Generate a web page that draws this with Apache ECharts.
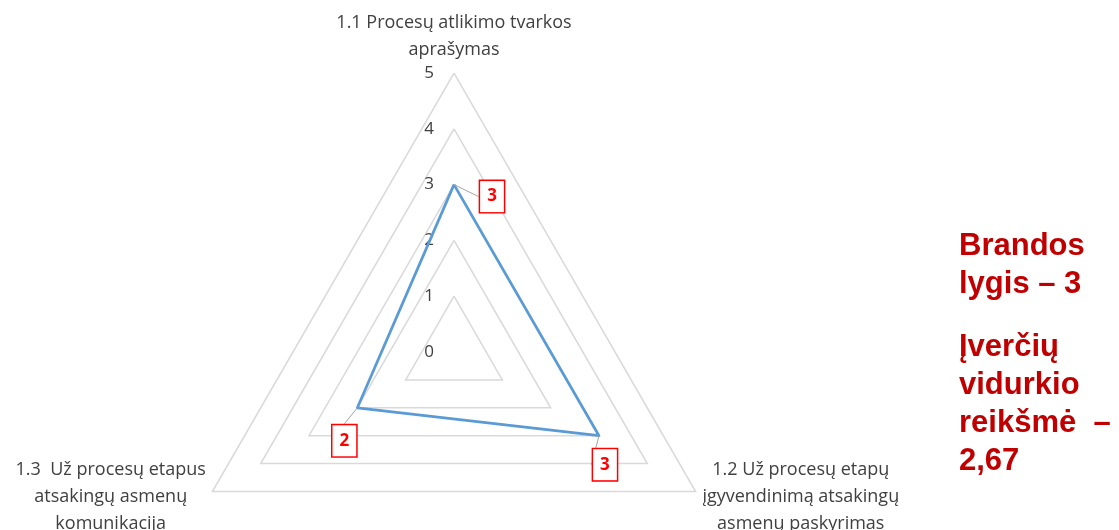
<!DOCTYPE html>
<html><head><meta charset="utf-8">
<script src="https://cdn.jsdelivr.net/npm/echarts@6/dist/echarts.min.js"></script>
<style>html,body{margin:0;padding:0;background:#fff}#chart{width:1119px;height:530px}</style>
</head><body><div id="chart"></div>
<script>
// Categories in the reference's (clockwise) order
const categories = [
  '1.1 Procesų atlikimo tvarkos\naprašymas',
  '1.2 Už procesų etapų\nįgyvendinimą atsakingų\nasmenų paskyrimas',
  '1.3  Už procesų etapus\natsakingų asmenų\nkomunikacija'
];
const values = [3, 3, 2];
const axisMin = 0;
const axisMax = 5;
const tickLabels = ['0', '1', '2', '3', '4', '5'];
const noteLevel = ['Brandos', 'lygis – 3'];
const noteAverage = ['Įverčių', 'vidurkio', 'reikšmė  –', '2,67'];

// ECharts lays indicators counter-clockwise; reorder so they appear clockwise like the reference
const order = [0, 2, 1];
const CX = 454, CY = 352, R = 279;
const txt = '#404040';
const nameStyles = [
  {},
  { align: 'center', verticalAlign: 'middle', padding: [0, 186, 6, 0] },
  { align: 'center', verticalAlign: 'middle', padding: [0, 0, 6, 193] }
];
const indicator = order.map((k, i) => {
  const ind = { name: categories[k], min: axisMin, max: axisMax, nameTextStyle: nameStyles[i] };
  if (i === 0) {
    ind.axisLabel = { show: true, margin: 20, color: txt, fontFamily: 'Open Sans', fontSize: 17,
      formatter: v => tickLabels[Math.round(v - axisMin)] };
  }
  return ind;
});

const chart = echarts.init(document.getElementById('chart'), null, { renderer: 'canvas' });
chart.setOption({
  animation: false,
  backgroundColor: '#ffffff',
  title: [
    { text: noteLevel.join('\n'), left: 959, top: 227, padding: 0,
      textStyle: { fontFamily: 'Liberation Sans', fontWeight: 'bold', fontSize: 31, lineHeight: 38, color: '#c00000' } },
    { text: noteAverage.join('\n'), left: 959, top: 328, padding: 0,
      textStyle: { fontFamily: 'Liberation Sans', fontWeight: 'bold', fontSize: 31, lineHeight: 38, color: '#c00000' } }
  ],
  radar: {
    center: [CX, CY],
    radius: R,
    startAngle: 90,
    splitNumber: 5,
    shape: 'polygon',
    axisNameGap: 10,
    indicator: indicator,
    axisName: { color: txt, fontFamily: 'Open Sans', fontSize: 18, lineHeight: 27 },
    axisLine: { show: false },
    axisTick: { show: false },
    axisLabel: { show: false },
    splitArea: { show: false },
    splitLine: { lineStyle: { color: '#d9d9d9', width: 1.5 } }
  },
  series: [{
    type: 'radar',
    symbol: 'circle',
    symbolSize: 0,
    lineStyle: { color: '#5b9bd5', width: 2.75 },
    itemStyle: { color: '#5b9bd5' },
    data: [{ value: order.map(k => values[k]) }],
    label: {
      show: true, position: 'inside', color: '#ff0000', fontWeight: 'bold', fontSize: 17,
      fontFamily: 'Open Sans', lineHeight: 21, borderColor: '#ff0000', borderWidth: 1.5,
      backgroundColor: '#ffffff', padding: [5, 7]
    },
    labelLine: { show: true, lineStyle: { color: '#a6a6a6', width: 1 } },
    labelLayout: function (p) {
      const x = p.rect.x + p.rect.width / 2, y = p.rect.y + p.rect.height / 2;
      if (y < CY - 40) return { dx: 38, dy: 12 };
      if (x < CX) return { dx: -13, dy: 33 };
      return { dx: 6, dy: 29 };
    }
  }]
});
</script></body></html>
